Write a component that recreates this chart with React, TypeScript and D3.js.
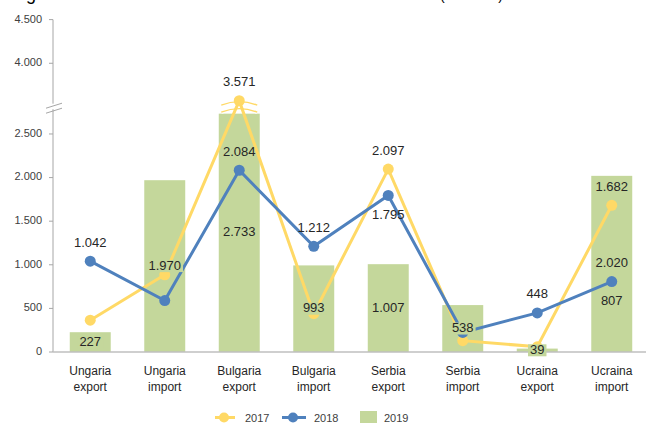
import React from 'react';
import * as d3 from 'd3';

const categories = [
  'Ungaria export', 'Ungaria import', 'Bulgaria export', 'Bulgaria import',
  'Serbia export', 'Serbia import', 'Ucraina export', 'Ucraina import',
];
const values2017 = [365, 885, 3571, 440, 2097, 130, 60, 1682];
const values2018 = [1042, 590, 2084, 1212, 1795, 225, 448, 807];
const values2019 = [227, 1970, 2733, 993, 1007, 538, 39, 2020];
const labels2017 = [null, null, 'above', null, 'above', null, null, 'above'];
const labels2018 = ['above', null, 'above', 'above', 'below', null, 'above', 'below'];
const yTicks = [0, 500, 1000, 1500, 2000, 2500, 4000, 4500];
const seriesNames = ['2017', '2018', '2019'];
const titleMain = 'Agrifood trade of Romania with the bordered states';
const titleUnit = '(mil. euro)';

const W = 646;
const H = 423;
const FONT = 'Liberation Sans, Arial, sans-serif';
const YELLOW = '#FFD966';
const BLUE = '#4F81BD';
const GREEN = '#C4D79B';
const AXIS = '#A6A6A6';

const locale = d3.formatLocale({ decimal: ',', thousands: '.', grouping: [3], currency: ['', ''] });
const fmt = locale.format(',d');

const breakLow = 2830;
const breakHigh = 3520;

export default function App() {
  const left = 53;
  const right = 649;
  const bottom = 352;
  const x = d3.scaleBand<string>().domain(categories).range([left, right]).paddingInner(0.45).paddingOuter(0.225);
  const y = d3.scaleLinear().domain([0, breakLow, breakHigh, 4500]).range([bottom, 105.2, 105.2, 19.6]);
  const cx = (c: string) => (x(c) as number) + x.bandwidth() / 2;
  const yBreak = y(breakLow);

  const line = d3.line<number>().x((_, i) => cx(categories[i])).y((d) => y(d));

  const textW = (s: string) => {
    let w = 0;
    for (const ch of s) w += ch === '.' ? 3.6 : 7.23;
    return w;
  };

  const lineLabels = (vals: number[], pos: (string | null)[], key: string) =>
    vals.map((v, i) =>
      pos[i] ? (
        <text key={key + i} x={cx(categories[i])} y={y(v) + (pos[i] === 'above' ? -18 : 20)}
          textAnchor="middle" dominantBaseline="middle" fontSize={13} fill="#262626">{fmt(v)}</text>
      ) : null
    );

  const bi = 2; // Bulgaria export column where the yellow series crosses the break
  const bx = cx(categories[bi]);

  return (
    <svg width={W} height={H} style={{ position: 'absolute', left: 0, top: 0, background: '#fff' }} fontFamily={FONT}>
      <rect x={0} y={0} width={W} height={H} fill="#fff" />
      {/* clipped title: only descenders reach into the picture */}
      <text x={14} y={-0.5} fontSize={18} fill="#000">{titleMain}</text>
      <text x={440} y={0} fontSize={14} fill="#000">{titleUnit}</text>

      {/* y axis */}
      <line x1={left} x2={left} y1={y(4500)} y2={yBreak - 1.5} stroke={AXIS} />
      <line x1={left} x2={left} y1={yBreak + 4} y2={bottom} stroke={AXIS} />
      <line x1={46} y1={yBreak + 3} x2={62} y2={yBreak - 2} stroke={AXIS} />
      <line x1={46} y1={yBreak + 8} x2={62} y2={yBreak + 3} stroke={AXIS} />
      {yTicks.map((t) => (
        <g key={t}>
          <line x1={left - 4} x2={left} y1={y(t)} y2={y(t)} stroke={AXIS} />
          <text x={42} y={y(t)} textAnchor="end" dominantBaseline="middle" fontSize={11} fill="#404040">{fmt(t)}</text>
        </g>
      ))}

      {/* bars */}
      {values2019.map((v, i) => (
        <rect key={'b' + i} x={x(categories[i])} y={y(v)} width={x.bandwidth()} height={bottom - y(v)} fill={GREEN} />
      ))}

      {/* baseline */}
      <line x1={left} x2={W} y1={bottom} y2={bottom} stroke="#BFBFBF" strokeWidth={1.5} />

      {/* break arcs on the yellow series */}
      {[0, 7].map((o) => (
        <g key={'arc' + o}>
          <path d={`M${bx - 18},${yBreak + o} Q${bx},${yBreak + o - 7} ${bx + 18},${yBreak + o}`} fill="none" stroke="#fff" strokeWidth={3.5} />
          <path d={`M${bx - 18},${yBreak + o} Q${bx},${yBreak + o - 7} ${bx + 18},${yBreak + o}`} fill="none" stroke={YELLOW} strokeWidth={1.3} />
        </g>
      ))}

      {/* lines */}
      <path d={line(values2017) as string} fill="none" stroke={YELLOW} strokeWidth={3} />
      {values2017.map((v, i) => (
        <circle key={'y' + i} cx={cx(categories[i])} cy={y(v)} r={5.5} fill={YELLOW} />
      ))}
      <path d={line(values2018) as string} fill="none" stroke={BLUE} strokeWidth={3} />
      {values2018.map((v, i) => (
        <circle key={'bl' + i} cx={cx(categories[i])} cy={y(v)} r={5.5} fill={BLUE} />
      ))}

      {/* bar labels */}
      {values2019.map((v, i) => {
        const s = fmt(v);
        const w = textW(s) + 4;
        const cy = (y(v) + bottom) / 2;
        return (
          <g key={'bl2' + i}>
            <rect x={cx(categories[i]) - w / 2} y={cy - 6} width={w} height={12} fill={GREEN} />
            <text x={cx(categories[i])} y={cy} textAnchor="middle" dominantBaseline="middle" fontSize={13} fill="#262626">{s}</text>
          </g>
        );
      })}

      {lineLabels(values2017, labels2017, 'l17')}
      {lineLabels(values2018, labels2018, 'l18')}

      {/* category labels */}
      {categories.map((c) => {
        const [a, b] = c.split(' ');
        return (
          <text key={c} x={cx(c)} textAnchor="middle" fontSize={12} fill="#262626">
            <tspan x={cx(c)} y={375}>{a}</tspan>
            <tspan x={cx(c)} y={391}>{b}</tspan>
          </text>
        );
      })}

      {/* legend */}
      <g>
        <line x1={215} x2={235} y1={417.5} y2={417.5} stroke={YELLOW} strokeWidth={3} />
        <circle cx={224} cy={417.5} r={5} fill={YELLOW} />
        <text x={245} y={421.5} fontSize={11} fill="#404040">{seriesNames[0]}</text>
        <line x1={282} x2={306} y1={417.5} y2={417.5} stroke={BLUE} strokeWidth={3} />
        <circle cx={293} cy={417.5} r={5} fill={BLUE} />
        <text x={314} y={421.5} fontSize={11} fill="#404040">{seriesNames[1]}</text>
        <rect x={360} y={411} width={17} height={13} fill={GREEN} />
        <text x={384} y={421.5} fontSize={11} fill="#404040">{seriesNames[2]}</text>
      </g>
    </svg>
  );
}
